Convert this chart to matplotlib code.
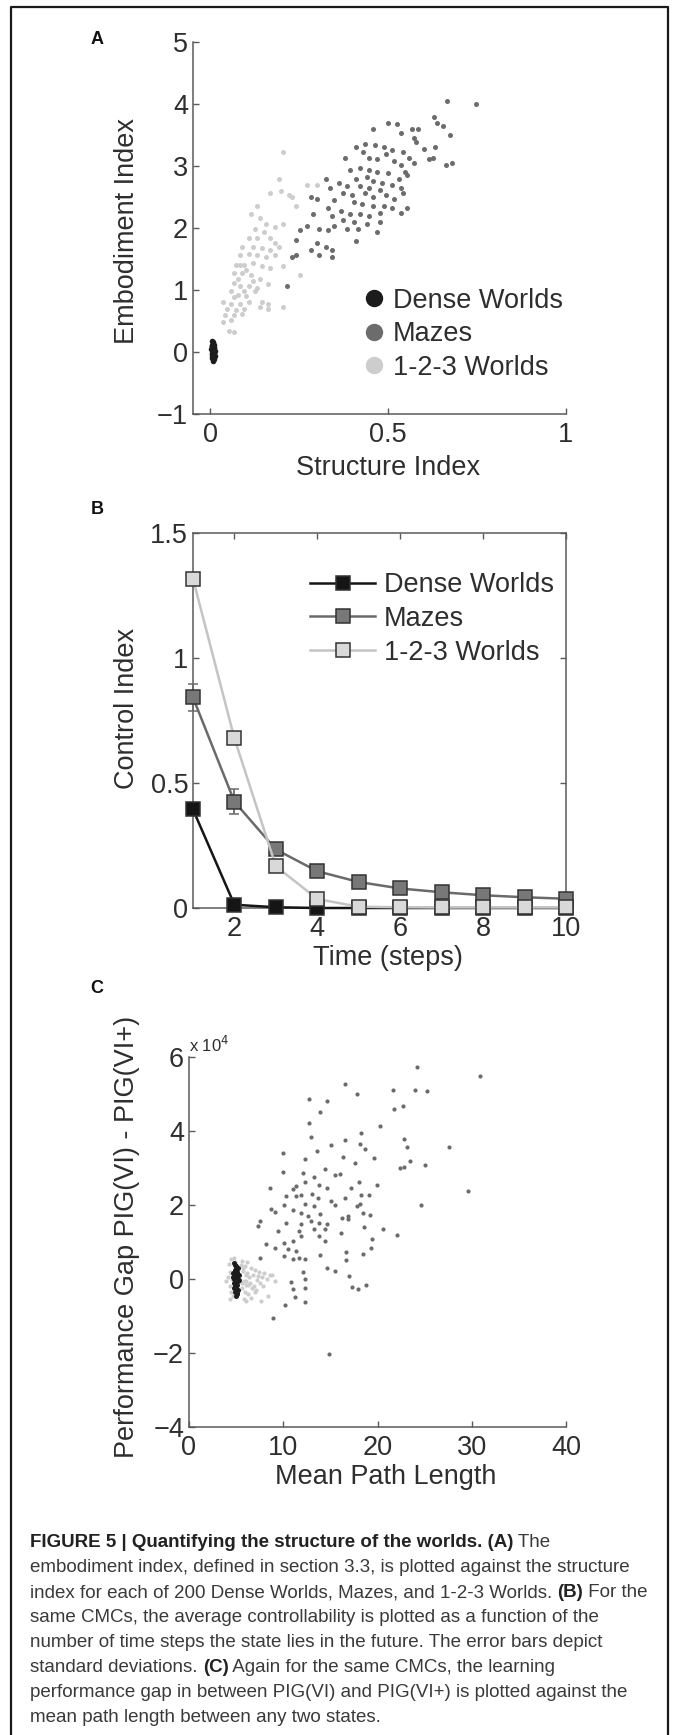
import numpy as np
import matplotlib

matplotlib.use("Agg")
import matplotlib.pyplot as plt
from matplotlib.lines import Line2D

plt.rcParams["font.family"] = ["Liberation Sans", "DejaVu Sans"]
plt.rcParams["axes.unicode_minus"] = True

W, H = 673, 1735
TXT = "#2e2e2e"
SPINE = "#5a5a5a"
C_DENSE, C_MAZE, C_123 = "#1c1c1c", "#6c6c6c", "#cdcdcd"

# ---------------- data ----------------
# A: structure index vs embodiment index
maze_a_x = [0.666, 0.747, 0.630, 0.637, 0.655, 0.673, 0.500, 0.524, 0.458, 0.566, 0.584, 0.536, 0.572, 0.578,
            0.602, 0.632, 0.434, 0.410, 0.464, 0.488, 0.512, 0.542, 0.380, 0.430, 0.446, 0.470, 0.494, 0.518,
            0.560, 0.614, 0.627, 0.663, 0.681, 0.572, 0.536, 0.422, 0.392, 0.446, 0.470, 0.500, 0.548, 0.440,
            0.410, 0.458, 0.482, 0.530, 0.554, 0.512, 0.536, 0.325, 0.361, 0.386, 0.422, 0.446, 0.476, 0.337,
            0.373, 0.398, 0.434, 0.458, 0.494, 0.518, 0.542, 0.283, 0.301, 0.349, 0.404, 0.428, 0.458, 0.488,
            0.512, 0.536, 0.554, 0.331, 0.367, 0.392, 0.422, 0.446, 0.476, 0.289, 0.343, 0.373, 0.404, 0.440,
            0.476, 0.349, 0.386, 0.416, 0.470, 0.331, 0.307, 0.253, 0.271, 0.241, 0.301, 0.325, 0.410, 0.283,
            0.307, 0.343, 0.229, 0.241, 0.217, 0.343]
maze_a_y = [4.05, 4.00, 3.79, 3.70, 3.65, 3.50, 3.70, 3.68, 3.59, 3.59, 3.59, 3.53, 3.45, 3.39,
            3.28, 3.31, 3.36, 3.31, 3.34, 3.31, 3.25, 3.22, 3.13, 3.22, 3.13, 3.11, 3.19, 3.08,
            3.13, 3.11, 3.13, 3.02, 3.05, 3.05, 3.02, 2.96, 2.93, 2.93, 2.90, 2.88, 2.90, 2.82,
            2.79, 2.76, 2.73, 2.79, 2.85, 2.70, 2.65, 2.79, 2.73, 2.68, 2.68, 2.65, 2.62, 2.65,
            2.56, 2.53, 2.56, 2.50, 2.53, 2.47, 2.56, 2.50, 2.47, 2.45, 2.42, 2.39, 2.36, 2.36,
            2.33, 2.24, 2.33, 2.33, 2.27, 2.22, 2.22, 2.19, 2.24, 2.22, 2.19, 2.13, 2.10, 2.07,
            2.10, 2.04, 1.99, 1.99, 1.93, 1.96, 1.99, 1.96, 2.04, 1.81, 1.76, 1.70, 1.79, 1.64,
            1.56, 1.53, 1.53, 1.56, 1.07, 1.64]

w123_a_x = [0.205, 0.193, 0.223, 0.229, 0.271, 0.301, 0.169, 0.199, 0.241, 0.133, 0.114, 0.139, 0.157, 0.181,
            0.205, 0.127, 0.151, 0.108, 0.133, 0.169, 0.181, 0.090, 0.121, 0.145, 0.169, 0.084, 0.108, 0.133,
            0.157, 0.181, 0.072, 0.096, 0.121, 0.145, 0.169, 0.205, 0.066, 0.090, 0.114, 0.139, 0.163, 0.066,
            0.084, 0.108, 0.133, 0.060, 0.078, 0.102, 0.127, 0.036, 0.060, 0.084, 0.108, 0.145, 0.163, 0.048,
            0.072, 0.096, 0.205, 0.139, 0.163, 0.042, 0.066, 0.090, 0.036, 0.060, 0.054, 0.066, 0.253, 0.084,
            0.102, 0.078, 0.121, 0.096, 0.066, 0.193]
w123_a_y = [3.22, 2.79, 2.53, 2.50, 2.70, 2.70, 2.56, 2.59, 2.36, 2.36, 2.22, 2.16, 2.07, 2.01,
            2.07, 1.99, 1.93, 1.84, 1.84, 1.84, 1.76, 1.70, 1.70, 1.67, 1.64, 1.56, 1.58, 1.56,
            1.53, 1.56, 1.41, 1.41, 1.44, 1.38, 1.35, 1.38, 1.27, 1.27, 1.24, 1.18, 1.10, 1.12,
            1.07, 1.07, 1.04, 0.98, 0.92, 0.90, 0.98, 0.81, 0.78, 0.78, 0.81, 0.81, 0.78, 0.69,
            0.67, 0.69, 0.72, 0.72, 0.69, 0.59, 0.59, 0.61, 0.48, 0.51, 0.34, 0.32, 1.24, 1.41,
            1.33, 1.18, 1.15, 0.98, 0.89, 1.70]

dense_a_x = [0.004, 0.008, 0.012, 0.006, 0.010, 0.003, 0.009, 0.013, 0.007, 0.005, 0.011, 0.008, 0.004, 0.010,
             0.006, 0.012, 0.009, 0.007, 0.005, 0.011, 0.008, 0.006, 0.010, 0.013, 0.004, 0.009, 0.007, 0.011,
             0.005, 0.008]
dense_a_y = [0.18, 0.15, 0.12, 0.10, 0.08, 0.05, 0.04, 0.02, 0.00, -0.02, -0.03, -0.05, -0.07, -0.08,
             -0.10, -0.12, -0.14, 0.13, 0.07, 0.06, 0.01, -0.04, 0.03, -0.06, 0.11, -0.11, 0.16, -0.01,
             0.09, -0.09]

# B: control index over time
time_steps = [1, 2, 3, 4, 5, 6, 7, 8, 9, 10]
ctrl_dense = [0.394, 0.013, 0.003, 0.0, 0.0, 0.0, 0.0, 0.0, 0.0, 0.0]
ctrl_maze = [0.842, 0.425, 0.234, 0.147, 0.104, 0.078, 0.063, 0.051, 0.043, 0.037]
ctrl_123 = [1.317, 0.678, 0.167, 0.036, 0.005, 0.003, 0.002, 0.002, 0.002, 0.002]
sd_dense = [0.01, 0.003, 0.002, 0.0, 0.0, 0.0, 0.0, 0.0, 0.0, 0.0]
sd_maze = [0.053, 0.05, 0.02, 0.01, 0.008, 0.006, 0.005, 0.004, 0.004, 0.003]
sd_123 = [0.01, 0.01, 0.008, 0.005, 0.002, 0.001, 0.001, 0.001, 0.001, 0.001]

# C: mean path length vs performance gap (units of 1e4)
maze_c_x = [24.2, 30.9, 16.6, 21.6, 24.0, 25.3, 17.8, 12.7, 14.6, 22.7, 21.7, 13.9, 20.3, 12.7, 12.9, 16.5,
            18.2, 15.1, 18.1, 18.7, 22.8, 23.1, 27.6, 13.6, 10.0, 19.6, 23.5, 22.8, 22.4, 25.0, 16.3, 17.6,
            12.3, 14.4, 15.5, 16.0, 12.1, 13.3, 10.0, 12.3, 13.8, 19.9, 18.0, 29.6, 8.6, 11.0, 11.4, 17.2,
            14.6, 11.9, 10.3, 11.4, 13.0, 13.7, 15.1, 16.5, 18.2, 19.1, 18.1, 24.6, 10.1, 12.3, 13.3, 15.5,
            17.8, 8.7, 9.1, 11.0, 11.9, 12.6, 13.9, 16.9, 18.5, 19.2, 13.8, 14.6, 12.9, 7.5, 7.3, 11.9,
            16.2, 16.9, 10.3, 9.4, 11.7, 13.3, 14.4, 18.6, 20.6, 22.1, 16.1, 8.2, 10.1, 11.0, 11.9, 14.4,
            13.8, 19.4, 19.3, 9.1, 10.5, 10.1, 11.4, 12.3, 13.9, 16.7, 16.7, 18.5, 7.5, 11.7, 11.0, 14.6,
            15.5, 17.0, 12.1, 10.8, 11.0, 12.3, 12.3, 17.3, 17.9, 18.8, 11.2, 12.3, 10.2, 8.9, 14.9]
maze_c_y = [5.73, 5.49, 5.26, 5.12, 5.12, 5.09, 4.99, 4.86, 4.81, 4.68, 4.60, 4.52, 4.14, 4.21, 3.83, 3.76,
            3.94, 3.63, 3.64, 3.52, 3.79, 3.57, 3.58, 3.46, 3.40, 3.26, 3.20, 3.04, 2.99, 3.07, 3.29, 3.13,
            3.24, 2.98, 2.80, 2.85, 2.86, 2.76, 2.88, 2.63, 2.55, 2.53, 2.61, 2.38, 2.47, 2.44, 2.51, 2.46,
            2.46, 2.28, 2.24, 2.24, 2.31, 2.18, 2.10, 2.19, 2.26, 2.27, 2.04, 2.01, 2.01, 2.04, 1.97, 1.99,
            1.97, 1.90, 1.82, 1.86, 1.79, 1.70, 1.75, 1.70, 1.79, 1.74, 1.52, 1.50, 1.57, 1.57, 1.43, 1.48,
            1.64, 1.61, 1.52, 1.30, 1.30, 1.36, 1.34, 1.41, 1.36, 1.18, 1.25, 0.94, 0.98, 1.03, 1.16, 1.03,
            1.16, 1.09, 0.83, 0.85, 0.81, 0.63, 0.76, 0.54, 0.65, 0.72, 0.52, 0.67, 0.56, 0.58, 0.54, 0.31,
            0.21, 0.07, 0.18, -0.09, -0.27, 0.00, -0.24, -0.22, -0.27, -0.15, -0.48, -0.61, -0.70, -1.06, -2.04]

w123_c_x = [4.2, 4.5, 4.8, 5.6, 5.9, 6.2, 6.6, 7.0, 7.4, 8.0, 8.6, 9.1, 4.4, 5.7, 6.0, 6.4, 6.8, 7.2,
            7.7, 8.3, 4.1, 4.6, 5.8, 6.1, 6.5, 6.9, 7.5, 3.9, 4.3, 5.6, 5.9, 6.3, 7.1, 7.9, 8.4, 4.5,
            5.7, 6.2, 6.7, 7.3, 8.8, 4.7, 5.8, 6.0, 6.6, 7.0, 4.4, 5.6, 6.3, 7.6, 4.9, 5.5, 6.1]
w123_c_y = [0.40, 0.55, 0.58, 0.50, 0.35, 0.45, 0.30, 0.25, 0.20, 0.15, 0.10, -0.05, 0.20, 0.22, 0.10, 0.05,
            0.12, -0.02, 0.05, 0.00, 0.05, 0.00, -0.05, -0.15, -0.10, -0.20, -0.10, -0.05, -0.20, -0.25, -0.35,
            -0.40, -0.30, -0.20, -0.45, -0.35, 0.30, 0.15, -0.25, 0.08, 0.12, -0.45, -0.55, -0.60, -0.50, -0.35,
            -0.55, -0.10, -0.15, -0.60, 0.45, 0.38, -0.05]

dense_c_x = [4.8, 5.0, 5.2, 4.9, 5.1, 4.7, 5.3, 5.0, 4.8, 5.2, 4.9, 5.1, 5.0, 4.8, 5.2, 4.9, 5.1, 5.0,
             4.7, 5.3, 4.9, 5.1, 5.0, 4.8, 5.2, 5.0, 4.9, 5.1, 5.0, 4.9]
dense_c_y = [0.42, 0.35, 0.30, 0.25, 0.20, 0.15, 0.10, 0.05, 0.00, -0.05, -0.10, -0.15, -0.20, -0.25, -0.30,
             -0.35, -0.40, -0.45, 0.05, -0.02, 0.18, 0.08, 0.28, -0.12, 0.12, -0.28, 0.38, -0.38, 0.12, -0.18]

series_names = ["Dense Worlds", "Mazes", "1-2-3 Worlds"]
caption = [
    [("FIGURE 5 | Quantifying the structure of the worlds. (A)", True), (" The", False)],
    [("embodiment index, defined in section 3.3, is plotted against the structure", False)],
    [("index for each of 200 Dense Worlds, Mazes, and 1-2-3 Worlds. ", False), ("(B)", True), (" For the", False)],
    [("same CMCs, the average controllability is plotted as a function of the", False)],
    [("number of time steps the state lies in the future. The error bars depict", False)],
    [("standard deviations. ", False), ("(C)", True), (" Again for the same CMCs, the learning", False)],
    [("performance gap in between PIG(VI) and PIG(VI+) is plotted against the", False)],
    [("mean path length between any two states.", False)],
]

# ---------------- figure ----------------
fig = plt.figure(figsize=(W / 100, H / 100), dpi=100)
FS = 19.5


def px_axes(l, t, r, b):
    return fig.add_axes([l / W, 1 - b / H, (r - l) / W, (b - t) / H])


def style(ax, box=False):
    for s in ["left", "bottom", "top", "right"]:
        ax.spines[s].set_color(SPINE)
        ax.spines[s].set_linewidth(1.1)
    if not box:
        ax.spines["top"].set_visible(False)
        ax.spines["right"].set_visible(False)
    ax.tick_params(direction="in", length=4, width=1, color=SPINE, labelsize=FS,
                   labelcolor=TXT, top=box, right=box)
    ax.tick_params(axis="x", pad=5.5)
    ax.tick_params(axis="y", pad=3.5)


def set_labels(ax, xl, yl, xpos, ypos):
    ax.set_xlabel(xl, fontsize=FS, color=TXT)
    ax.set_ylabel(yl, fontsize=FS, color=TXT)
    ax.xaxis.label.set_va("center")
    ax.yaxis.label.set_va("center")
    ax.xaxis.set_label_coords(*xpos)
    ax.yaxis.set_label_coords(*ypos)


# Panel A
axA = px_axes(193, 42, 566, 414)
axA.scatter(w123_a_x, w123_a_y, s=13, color=C_123, linewidths=0, zorder=2)
axA.scatter(maze_a_x, maze_a_y, s=13, color=C_MAZE, linewidths=0, zorder=3)
axA.scatter(dense_a_x, dense_a_y, s=16, color=C_DENSE, linewidths=0, zorder=4)
axA.set_xlim(-0.048, 1)
axA.set_ylim(-1, 5)
axA.set_xticks([0, 0.5, 1])
axA.set_xticklabels(["0", "0.5", "1"])
axA.set_yticks(range(-1, 6))
style(axA)
set_labels(axA, "Structure Index", "Embodiment Index", (0.523, -0.145), (-0.177, 0.492))
hA = [Line2D([], [], marker="o", ls="none", ms=11.5, color=c) for c in (C_DENSE, C_MAZE, C_123)]
axA.legend(hA, series_names, loc="upper left", bbox_to_anchor=(0.455, 0.34), frameon=False,
           fontsize=FS, handlelength=0.8, handletextpad=0.3, labelspacing=0.28, borderpad=0,
           borderaxespad=0, labelcolor=TXT)

# Panel B
axB = px_axes(193, 533, 566, 908)
for vals, sd, lc, fc, z in [(ctrl_dense, sd_dense, "#151515", "#151515", 3),
                            (ctrl_maze, sd_maze, "#6a6a6a", "#787878", 4),
                            (ctrl_123, sd_123, "#c4c4c4", "#d9d9d9", 5)]:
    axB.errorbar(time_steps, vals, yerr=sd, color=lc, lw=1.8, marker="s", ms=9.5, mfc=fc, mec="#333333",
                 mew=1.1, ecolor=lc, elinewidth=1.3, capsize=3.5, zorder=z, clip_on=False)
axB.set_xlim(1, 10)
axB.set_ylim(0, 1.5)
axB.set_xticks([2, 4, 6, 8, 10])
axB.set_yticks([0, 0.5, 1, 1.5])
axB.set_yticklabels(["0", "0.5", "1", "1.5"])
style(axB, box=True)
set_labels(axB, "Time (steps)", "Control Index", (0.523, -0.133), (-0.177, 0.531))
hB = [Line2D([], [], color=lc, lw=1.8, marker="s", ms=9.5, mfc=fc, mec="#333333", mew=1.1)
      for lc, fc in [("#151515", "#151515"), ("#6a6a6a", "#787878"), ("#c4c4c4", "#d9d9d9")]]
axB.legend(hB, series_names, loc="upper left", bbox_to_anchor=(0.315, 0.895), frameon=False,
           fontsize=FS, handlelength=2.4, handletextpad=0.3, labelspacing=0.28, borderpad=0,
           borderaxespad=0, labelcolor=TXT)

# Panel C
axC = px_axes(189, 1057, 566, 1427)
axC.scatter(w123_c_x, w123_c_y, s=9, color=C_123, linewidths=0, zorder=2)
axC.scatter(maze_c_x, maze_c_y, s=9, color=C_MAZE, linewidths=0, zorder=3)
axC.scatter(dense_c_x, dense_c_y, s=13, color=C_DENSE, linewidths=0, zorder=4)
axC.set_xlim(0, 40)
axC.set_ylim(-4, 6)
axC.set_xticks([0, 10, 20, 30, 40])
axC.set_yticks([-4, -2, 0, 2, 4, 6])
style(axC)
set_labels(axC, "Mean Path Length", "Performance Gap PIG(VI) - PIG(VI+)", (0.523, -0.135), (-0.164, 0.514))
axC.text(0.0, 1.005, "x 10$^{4}$", transform=axC.transAxes, fontsize=12, color=TXT, ha="left", va="bottom")

# panel letters
for letter, y in [("A", 40), ("B", 509), ("C", 988)]:
    fig.text(97 / W, 1 - y / H, letter, fontsize=13, fontweight="bold", color="#111111",
             ha="center", va="center")

# outer frame (open at the bottom)
fig.add_artist(Line2D([11.5 / W, 11.5 / W, 668 / W, 668 / W], [0, 1 - 7 / H, 1 - 7 / H, 0],
                      transform=fig.transFigure, color="#1a1a1a", lw=1.6))

# caption
renderer = fig.canvas.get_renderer()
cap_fam = ["Liberation Sans Narrow", "Liberation Sans", "DejaVu Sans"]
for i, segs in enumerate(caption):
    x = 30
    yb = 1547 + 25 * i
    for text, bold in segs:
        t = fig.text(x / W, 1 - yb / H, text, fontsize=13.5, family=cap_fam,
                     fontweight="bold" if bold else "normal",
                     color="#222222" if bold else "#3a3a3a", ha="left", va="baseline")
        x = t.get_window_extent(renderer).x1

fig.savefig("out.png", dpi=100)
